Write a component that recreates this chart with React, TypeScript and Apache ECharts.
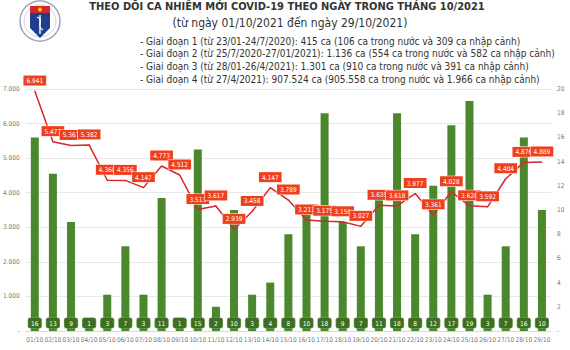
import React, { useEffect, useRef } from "react";
import * as echarts from "echarts";

const categories = [
  "01/10", "02/10", "03/10", "04/10", "05/10", "06/10", "07/10", "08/10", "09/10", "10/10",
  "11/10", "12/10", "13/10", "14/10", "15/10", "16/10", "17/10", "18/10", "19/10", "20/10",
  "21/10", "22/10", "23/10", "24/10", "25/10", "26/10", "27/10", "28/10", "29/10",
];
const deaths = [16, 13, 9, 1, 3, 7, 3, 11, 1, 15, 2, 10, 3, 4, 8, 10, 18, 9, 7, 11, 18, 8, 12, 17, 19, 3, 7, 16, 10];
const cases = [
  6941, 5477, 5367, 5382, 4360, 4356, 4147, 4773, 4512, 3513,
  3617, 2939, 3458, 4147, 3789, 3211, 3175, 3159, 3027, 3635,
  3618, 3977, 3361, 4028, 3620, 3592, 4404, 4876, 4889,
];
const titleLine1 = "THEO DÕI CA NHIỄM MỚI COVID-19 THEO NGÀY TRONG THÁNG 10/2021";
const titleLine2 = "(từ ngày 01/10/2021 đến ngày 29/10/2021)";
const phases = [
  "- Giai đoạn 1 (từ 23/01-24/7/2020): 415 ca (106 ca trong nước và 309 ca nhập cảnh)",
  "- Giai đoạn 2 (từ 25/7/2020-27/01/2021): 1.136 ca (554 ca trong nước và 582 ca nhập cảnh)",
  "- Giai đoạn 3 (từ 28/01-26/4/2021): 1.301 ca (910 ca trong nước và 391 ca nhập cảnh)",
  "- Giai đoạn 4 (từ 27/4/2021): 907.524 ca (905.558 ca trong nước và 1.966 ca nhập cảnh)",
];

const fmt = (v: number) => String(v).replace(/\B(?=(\d{3})+(?!\d))/g, ".");
const FONT = "'Liberation Sans Narrow', 'DejaVu Sans Condensed', 'Liberation Sans', sans-serif";

export default function App() {
  const ref = useRef<HTMLDivElement>(null);
  useEffect(() => {
    if (!ref.current) return;
    const chart = echarts.init(ref.current, null, { renderer: "svg" });
    const option: any = {
      animation: false,
      backgroundColor: "#ffffff",
      textStyle: { fontFamily: FONT },
      grid: { left: 23, right: 19, top: 89, bottom: 19, containLabel: false },
      graphic: [
        // logo
        { type: "circle", shape: { cx: 40, cy: 21, r: 20 }, style: { fill: "#ffffff", stroke: "#9aa3bd", lineWidth: 1.5 } },
        { type: "circle", shape: { cx: 40, cy: 21, r: 16 }, style: { fill: "none", stroke: "#c4cad8", lineWidth: 0.8 } },
        { type: "polygon", shape: { points: [[30, 6], [50, 6], [50, 28], [40, 38], [30, 28]] }, style: { fill: "#1f3f8f" } },
        { type: "polygon", shape: { points: [[30, 6], [50, 6], [50, 13], [30, 13]] }, style: { fill: "#d8262b" } },
        { type: "circle", shape: { cx: 40, cy: 9.5, r: 2 }, style: { fill: "#f5d20c" } },
        { type: "line", shape: { x1: 40, y1: 15, x2: 40, y2: 34 }, style: { stroke: "#ffffff", lineWidth: 1.4 } },
        { type: "bezierCurve", shape: { x1: 37, y1: 17, cpx1: 45, cpy1: 20, cpx2: 35, cpy2: 26, x2: 43, y2: 30 }, style: { stroke: "#ffffff", lineWidth: 1.2, fill: "none" } },
        // titles
        { type: "text", style: { x: 287, y: 6, text: titleLine1, align: "center", verticalAlign: "middle", fontSize: 11, fontWeight: "bold", fill: "#333333", fontFamily: FONT } },
        { type: "text", style: { x: 290, y: 23, text: titleLine2, align: "center", verticalAlign: "middle", fontSize: 12, fontWeight: 500, fill: "#333333", fontFamily: FONT } },
        ...phases.map((t, i) => ({
          type: "text",
          style: { x: 140, y: 41 + i * 12.8, text: t, align: "left", verticalAlign: "middle", fontSize: 10, fill: "#333333", fontFamily: FONT },
        })),
      ],
      xAxis: {
        type: "category",
        data: categories,
        axisTick: { show: false },
        axisLine: { lineStyle: { color: "#d9d9d9" } },
        axisLabel: { fontSize: 6.5, color: "#777777", margin: 5, interval: 0 },
      },
      yAxis: [
        {
          type: "value",
          min: 0,
          max: 7000,
          interval: 1000,
          axisLine: { show: false },
          axisTick: { show: false },
          splitLine: { lineStyle: { color: "#e8e8e8" } },
          axisLabel: { fontSize: 6.5, color: "#777777", margin: 6, formatter: (v: number) => (v === 0 ? "-" : fmt(v)) },
        },
        {
          type: "value",
          min: 0,
          max: 20,
          interval: 2,
          axisLine: { show: false },
          axisTick: { show: false },
          splitLine: { show: false },
          axisLabel: { fontSize: 6.5, color: "#777777", margin: 6, formatter: (v: number) => (v === 0 ? "-" : String(v)) },
        },
      ],
      series: [
        {
          type: "bar",
          yAxisIndex: 1,
          data: deaths,
          barWidth: 8,
          itemStyle: { color: "#4b872c" },
          label: {
            show: true,
            position: "insideBottom",
            distance: 3,
            color: "#ffffff",
            fontSize: 6.5,
            backgroundColor: "#3d6e22",
            borderColor: "#6fa04d",
            borderWidth: 0.6,
            borderRadius: 2,
            padding: [2, 2, 1, 2],
            width: 9,
            align: "center",
          },
          z: 1,
        },
        {
          type: "line",
          yAxisIndex: 0,
          data: cases,
          symbol: "circle",
          symbolSize: 1,
          showSymbol: true,
          itemStyle: { color: "#d7262b" },
          lineStyle: { color: "#d7262b", width: 1.5 },
          label: {
            show: true,
            position: "top",
            distance: 5,
            color: "#ffffff",
            fontSize: 6.5,
            backgroundColor: "#f03f1d",
            borderColor: "#ffffff",
            borderWidth: 0.5,
            padding: [2, 3, 1, 3],
            formatter: (p: any) => fmt(p.value),
          },
          labelLayout: { hideOverlap: false },
          z: 3,
        },
      ],
    };
    chart.setOption(option);
    return () => chart.dispose();
  }, []);
  return <div ref={ref} style={{ position: "fixed", left: 0, top: 0, width: 570, height: 350 }} />;
}
